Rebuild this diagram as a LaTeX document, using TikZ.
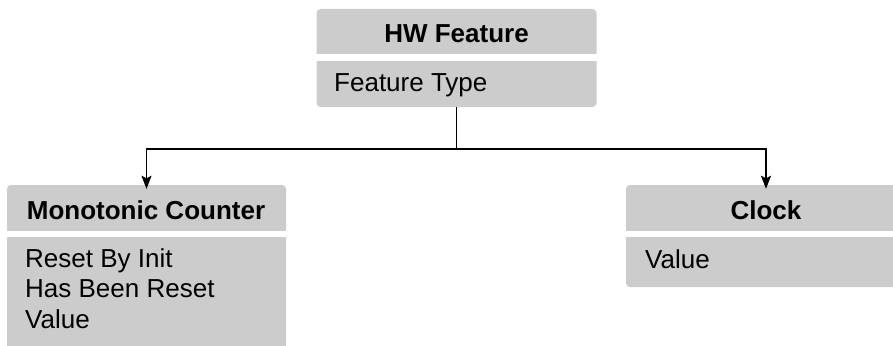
\documentclass[tikz,border=0pt]{standalone}
\usepackage{fontspec}
\setmainfont{Liberation Sans}
\usetikzlibrary{arrows.meta}
\definecolor{boxgray}{HTML}{CCCCCC}
\tikzset{
  umlbox/.style={fill=boxgray, draw=none, rounded corners=4pt, inner sep=0pt},
  gapband/.style={fill=white, draw=none},
  ttl/.style={font=\fontsize{26}{30.5}\selectfont\bfseries, inner sep=0pt, anchor=base},
  attr/.style={font=\fontsize{26}{30.5}\selectfont, inner sep=0pt, anchor=base west, align=left},
  conn/.style={line width=1.5pt, -{Stealth[length=13pt,width=10pt,inset=2.5pt]}, shorten >=-4pt},
  connplain/.style={line width=1.5pt}
}
\begin{document}
\begin{tikzpicture}[x=1pt,y=-1pt]
\useasboundingbox (0,0) rectangle (893,345);
\clip (0,0) rectangle (893,345);
% boxes
\node[umlbox, minimum width=280pt, minimum height=98pt] (hw) at (456.5,58) {};
\node[umlbox, minimum width=279pt, minimum height=185pt] (mc) at (146.5,277.5) {};
\node[umlbox, minimum width=280pt, minimum height=102pt] (clk) at (766,236) {};
% separator bands
\fill[gapband] (hw.west |- 0,54) rectangle (hw.east |- 0,61);
\fill[gapband] (mc.west |- 0,231) rectangle (mc.east |- 0,237);
\fill[gapband] (clk.west |- 0,231) rectangle (clk.east |- 0,237);
% texts
\node[ttl] (hwt) at (456.5,43) {HW Feature};
\node[attr] (hwa) at (334,91) {Feature Type};
\node[ttl] (mct) at (146,219) {Monotonic Counter};
\node[attr] (mca1) at (25,267) {Reset By Init};
\node[attr] (mca2) at (25,297.5) {Has Been Reset};
\node[attr] (mca3) at (25,328) {Value};
\node[ttl] (clkt) at (766,219) {Clock};
\node[attr] (clka) at (645,268) {Value};
% connectors
\coordinate (junc) at (hw.south |- 0,149);
\draw[connplain] (hw.south) -- (junc);
\draw[conn] (junc) -| (mc.north);
\draw[conn] (junc) -| (clk.north);
\end{tikzpicture}
\end{document}
